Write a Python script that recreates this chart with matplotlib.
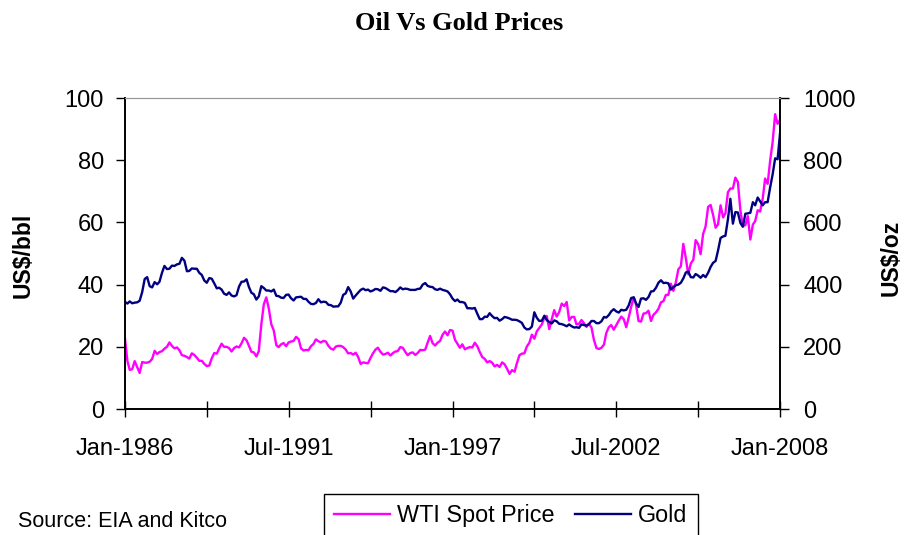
import pandas as pd
import matplotlib
matplotlib.use("Agg")
import matplotlib.pyplot as plt

plt.rcParams["font.family"] = ["Liberation Sans", "DejaVu Sans"]

# monthly averages Jan 1986 .. Jan 2008
wti = [22.9, 15.4, 12.6, 12.8, 15.4, 13.5, 11.6, 15.1, 14.9, 14.9, 15.2, 16.1,
       18.7, 17.7, 18.3, 18.6, 19.4, 20.0, 21.4, 20.3, 19.5, 19.8, 18.9, 17.3,
       17.1, 16.7, 16.2, 17.9, 17.4, 16.5, 15.5, 15.5, 14.5, 13.8, 14.0, 16.3,
       18.0, 17.8, 19.4, 21.0, 20.0, 20.0, 19.6, 18.5, 19.6, 20.1, 19.8, 21.1,
       22.9, 22.1, 20.4, 18.4, 18.2, 16.9, 18.6, 27.2, 33.7, 35.9, 32.3, 27.3,
       25.2, 20.5, 19.9, 20.8, 21.2, 20.2, 21.4, 21.7, 21.9, 23.2, 22.5, 19.5,
       18.8, 19.0, 18.9, 20.2, 20.9, 22.4, 21.8, 21.4, 21.9, 21.7, 20.3, 19.4,
       19.1, 20.1, 20.3, 20.3, 19.9, 19.1, 17.9, 18.0, 17.5, 18.1, 16.7, 14.5,
       15.0, 14.8, 14.7, 16.4, 17.9, 19.1, 19.7, 18.4, 17.5, 17.7, 18.1, 17.2,
       18.0, 18.5, 18.6, 19.9, 19.7, 18.4, 17.3, 18.0, 18.2, 17.4, 18.0, 19.0,
       18.9, 19.1, 21.3, 23.5, 21.2, 20.4, 21.3, 21.9, 23.9, 24.9, 23.7, 25.4,
       25.2, 22.2, 21.0, 19.7, 20.8, 19.2, 19.6, 19.9, 19.8, 21.3, 20.2, 18.3,
       16.7, 16.1, 15.0, 15.4, 14.9, 13.7, 14.2, 13.5, 15.0, 14.4, 12.9, 11.3,
       12.5, 12.0, 14.7, 17.3, 17.8, 17.9, 20.1, 21.3, 23.9, 22.6, 25.0, 26.1,
       27.2, 29.4, 29.9, 25.7, 28.8, 31.8, 29.7, 31.2, 33.9, 33.1, 34.4, 28.5,
       29.6, 29.6, 27.2, 27.4, 28.6, 27.6, 26.4, 27.4, 26.2, 22.2, 19.6, 19.3,
       19.7, 20.7, 24.4, 26.3, 27.0, 25.5, 26.9, 28.4, 29.7, 28.9, 26.3, 29.4,
       32.9, 35.9, 33.6, 28.3, 28.1, 30.7, 30.8, 31.6, 28.3, 30.3, 31.1, 32.2,
       34.3, 34.7, 36.7, 36.7, 40.3, 38.0, 40.7, 44.9, 45.9, 53.1, 48.5, 43.3,
       46.8, 48.0, 54.3, 53.0, 49.8, 56.3, 58.7, 65.0, 65.6, 62.4, 58.3, 59.4,
       65.5, 61.6, 62.9, 69.7, 70.9, 70.9, 74.4, 73.0, 63.8, 58.9, 59.1, 62.0,
       54.5, 59.3, 60.4, 63.9, 63.5, 67.5, 74.1, 72.4, 79.9, 85.8, 94.8, 91.7,
       93.0]

gold = [345, 339, 346, 340, 342, 343, 348, 376, 418, 424, 395, 391,
        408, 401, 409, 438, 460, 450, 451, 461, 460, 465, 467, 486,
        477, 443, 444, 452, 451, 451, 438, 431, 413, 406, 421, 419,
        404, 388, 390, 384, 371, 367, 375, 365, 362, 366, 394, 409,
        410, 417, 393, 374, 369, 352, 362, 395, 389, 381, 381, 378,
        384, 364, 363, 358, 357, 367, 368, 356, 349, 359, 360, 361,
        354, 354, 345, 338, 337, 341, 353, 343, 345, 344, 335, 334,
        329, 330, 330, 342, 367, 372, 392, 378, 355, 365, 374, 383,
        387, 382, 384, 378, 381, 386, 385, 380, 391, 389, 384, 379,
        379, 376, 382, 391, 385, 387, 386, 383, 383, 383, 386, 387,
        400, 405, 396, 393, 392, 385, 383, 387, 383, 381, 378, 369,
        355, 347, 352, 344, 344, 341, 324, 324, 323, 325, 306, 289,
        289, 297, 296, 308, 299, 292, 293, 284, 289, 296, 294, 291,
        287, 287, 286, 282, 277, 262, 256, 257, 265, 311, 293, 283,
        284, 300, 286, 280, 275, 285, 282, 274, 273, 270, 266, 272,
        266, 262, 263, 261, 272, 270, 268, 273, 283, 283, 276, 276,
        282, 296, 294, 302, 314, 321, 314, 310, 319, 317, 319, 333,
        357, 359, 340, 328, 355, 356, 351, 360, 378, 379, 390, 406,
        414, 405, 406, 404, 384, 392, 398, 400, 406, 420, 439, 442,
        424, 423, 434, 429, 422, 431, 424, 438, 457, 470, 476, 510,
        550, 555, 557, 610, 676, 596, 633, 632, 598, 586, 628, 629,
        631, 665, 655, 680, 668, 655, 665, 665, 713, 754, 806, 803,
        889]

months = pd.date_range("1986-01-01", periods=len(wti), freq="MS")

fig = plt.figure(figsize=(9.05, 5.35), dpi=100)
ax = fig.add_axes([0.138, 0.2355, 0.724, 0.5813])
ax2 = ax.twinx()

l1, = ax.plot(months, wti, color="#FF00FF", lw=1.7, label="WTI Spot Price")
l2, = ax2.plot(months, gold, color="#000080", lw=1.7, label="Gold")

ax.set_ylim(0, 100)
ax2.set_ylim(0, 1000)
ax.set_yticks(range(0, 101, 20))
ax2.set_yticks(range(0, 1001, 200))
ax.set_xlim(months[0], months[-1])

# labels every 66 months, extra ticks in between
major = months[::66]
minor = months[33::66]
ax.set_xticks(major)
ax.set_xticklabels([d.strftime("%b-%Y") for d in major])
ax.set_xticks(minor, minor=True)

for a in (ax, ax2):
    a.spines["top"].set_color("#999999")
    for s in ("left", "right", "bottom"):
        a.spines[s].set_linewidth(1.2)
ax.tick_params(axis="x", which="both", direction="inout", length=11.5,
               width=1, labelsize=17, pad=15)
ax.tick_params(axis="y", direction="out", length=6.5, width=1,
               labelsize=17, pad=8.5)
ax2.tick_params(axis="y", direction="out", length=6.5, width=1,
                labelsize=17, pad=10)

fig.text(23 / 905, 1 - 255 / 535, "US$/bbl", rotation=90, ha="center",
         va="center", fontsize=16.5, fontweight="bold")
fig.text(891 / 905, 1 - 258 / 535, "US$/oz", rotation=90, ha="center",
         va="center", fontsize=16.5, fontweight="bold")

fig.text(0.507, 0.957, "Oil Vs Gold Prices", ha="center", va="center",
         family="Liberation Serif", fontweight="bold", fontsize=19)
fig.text(0.02, 0.026, "Source: EIA and Kitco", fontsize=15.5, va="center")

leg = fig.legend(handles=[l1, l2], loc="upper left",
                 bbox_to_anchor=(0.358, 0.0766), ncol=2, fontsize=16.8,
                 frameon=True, fancybox=False, edgecolor="black",
                 framealpha=1, handlelength=2.4, handletextpad=0.3,
                 columnspacing=0.87, borderpad=0.44, borderaxespad=0)
leg.get_frame().set_linewidth(1)

fig.savefig("out.png", dpi=100)
